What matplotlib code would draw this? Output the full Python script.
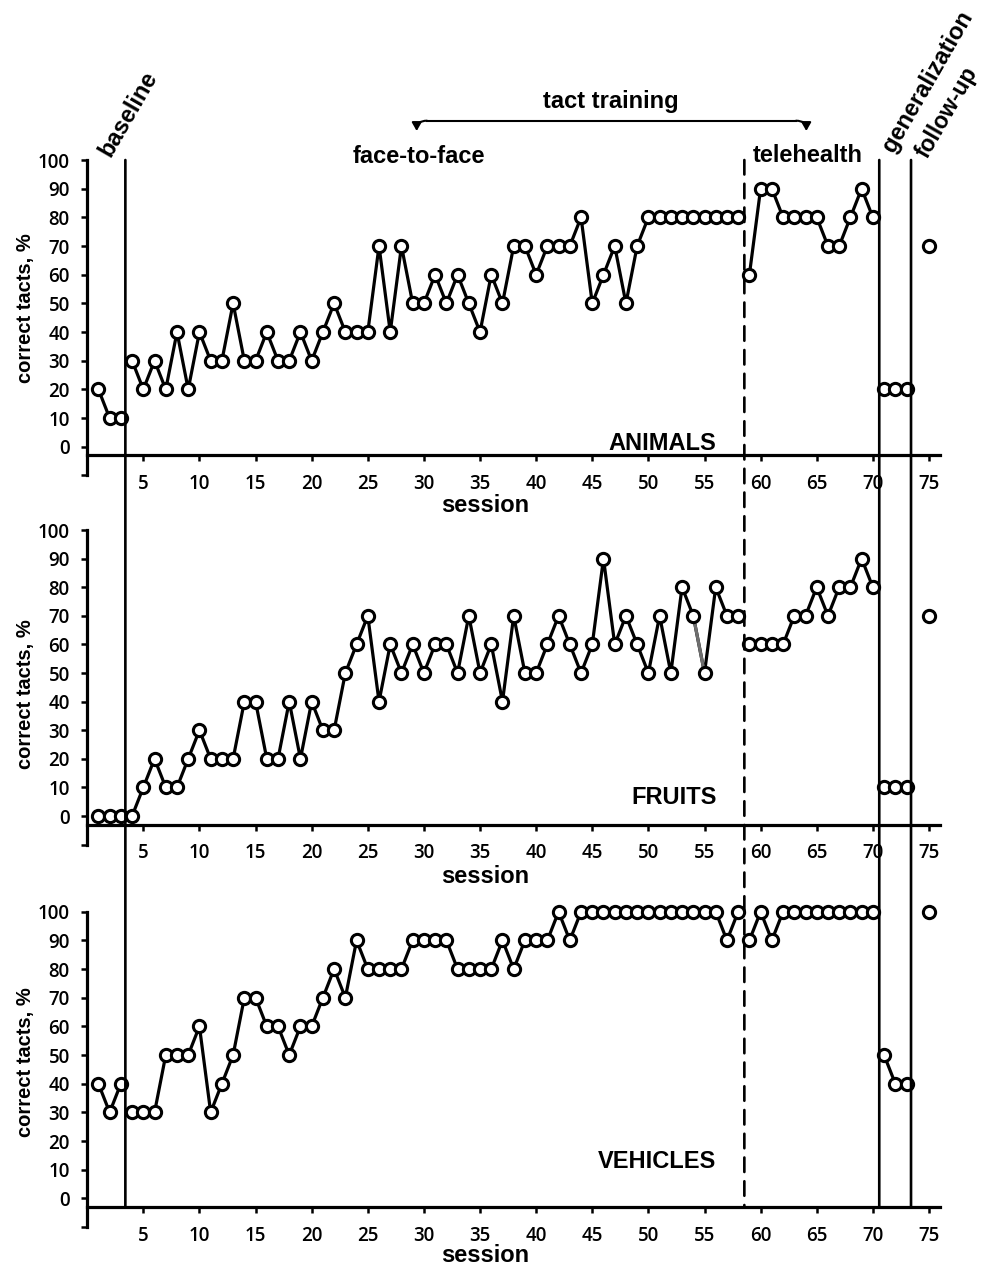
import numpy as np
import matplotlib
matplotlib.use("Agg")
import matplotlib.pyplot as plt
from matplotlib.patches import ConnectionPatch, FancyArrowPatch
from matplotlib.lines import Line2D

nan = np.nan

# ---------------- data ----------------
sessions = list(range(1, 76))

animals = [20, 10, 10,
           30, 20, 30, 20, 40, 20, 40, 30, 30, 50, 30, 30, 40, 30, 30, 40, 30,
           40, 50, 40, 40, 40, 70, 40, 70, 50, 50, 60, 50, 60, 50, 40, 60, 50,
           70, 70, 60, 70, 70, 70, 80, 50, 60, 70, 50, 70,
           80, 80, 80, 80, 80, 80, 80, 80, 80,
           60, 90, 90, 80, 80, 80, 80, 70, 70, 80, 90, 80,
           20, 20, 20,
           nan, 70]

fruits = [0, 0, 0,
          0, 10, 20, 10, 10, 20, 30, 20, 20, 20, 40, 40, 20, 20, 40, 20, 40,
          30, 30, 50, 60, 70, 40, 60, 50, 60, 50, 60, 60, 50, 70, 50, 60, 40,
          70, 50, 50, 60, 70, 60, 50, 60, 90, 60, 70, 60, 50, 70, 50, 80, 70,
          50, 80, 70, 70,
          60, 60, 60, 60, 70, 70, 80, 70, 80, 80, 90, 80,
          10, 10, 10,
          nan, 70]

vehicles = [40, 30, 40,
            30, 30, 30, 50, 50, 50, 60, 30, 40, 50, 70, 70, 60, 60, 50, 60, 60,
            70, 80, 70, 90, 80, 80, 80, 80, 90, 90, 90, 90, 80, 80, 80, 80, 90,
            80, 90, 90, 90, 100, 90,
            100, 100, 100, 100, 100, 100, 100, 100, 100, 100, 100, 100, 100,
            90, 100,
            90, 100, 90, 100, 100, 100, 100, 100, 100, 100, 100, 100,
            50, 40, 40,
            nan, 100]

panel_names = ["ANIMALS", "FRUITS", "VEHICLES"]
phase_bounds = [3.4, 58.55, 70.57, 73.4]       # baseline | f2f | telehealth | generalization | follow-up
phase_styles = ["-", "--", "-", "-"]
gray_segment = {"FRUITS": (54, 55)}           # one segment drawn in gray in the original
x_ticks = list(range(5, 76, 5))
y_ticks = list(range(-10, 101, 10))
y_tick_labels = [""] + [str(v) for v in range(0, 101, 10)]

# ---------------- layout ----------------
W, H = 985, 1269
plt.rcParams["font.family"] = ["Open Sans", "DejaVu Sans"]
BOLD = ["Liberation Sans", "DejaVu Sans"]

fig = plt.figure(figsize=(W / 100, H / 100), dpi=100)

def fx(x):
    return x / W

def fy(y):
    return 1 - y / H

ax_l, ax_r = 87.2, 940.2
panels_px = [(160.0, 475.4), (530.0, 844.6), (911.7, 1227.0)]   # pixel y of 100 and -10
ylabel_y = [0.531, 0.478, 0.523]
xlabel_y = [-0.094, -0.100, -0.089]
name_y = [-1.2, 4.2, 10.5]

axes = []
series_list = [animals, fruits, vehicles]
for i, (vals, name) in enumerate(zip(series_list, panel_names)):
    top, bot = panels_px[i]
    ax = fig.add_axes([fx(ax_l), fy(bot), (ax_r - ax_l) / W, (bot - top) / H])
    axes.append(ax)
    s = np.array(sessions, dtype=float)
    v = np.array(vals, dtype=float)
    edges = [0] + phase_bounds + [76]
    for lo, hi in zip(edges[:-1], edges[1:]):
        m = (s > lo) & (s < hi) & ~np.isnan(v)
        ax.plot(s[m], v[m], color="black", lw=2.3, zorder=2, clip_on=False,
                solid_joinstyle="miter")
    if name in gray_segment:
        a, b = gray_segment[name]
        m = (s >= a) & (s <= b)
        ax.plot(s[m], v[m], color="#6e6e6e", lw=2.3, zorder=2.5, clip_on=False)
    ax.plot(s, v, ls="none", marker="o", ms=8.8, mfc="white", mec="black",
            mew=2.2, zorder=3, clip_on=False)

    ax.set_xlim(0, 76)
    ax.set_ylim(-10, 100)
    ax.spines[["top", "right"]].set_visible(False)
    ax.spines["bottom"].set_position(("data", -3))
    ax.spines["left"].set_linewidth(2.3)
    ax.spines["bottom"].set_linewidth(2.3)
    ax.set_xticks(x_ticks)
    ax.set_yticks(y_ticks)
    ax.set_yticklabels(y_tick_labels)
    ax.tick_params(axis="both", direction="out", width=1.8, length=4.5,
                   labelsize=13.5)
    ax.tick_params(axis="x", pad=9)
    ax.tick_params(axis="y", pad=8)
    for lab in ax.get_xticklabels() + ax.get_yticklabels():
        lab.set_fontweight("semibold")

    ax.set_ylabel("correct tacts, %", fontsize=14.5, fontweight="bold",
                  family=BOLD)
    ax.yaxis.set_label_coords((26 - ax_l) / (ax_r - ax_l), ylabel_y[i])
    ax.yaxis.label.set_va("center")
    ax.set_xlabel("session", fontsize=17, fontweight="bold", family=BOLD)
    ax.xaxis.set_label_coords((485.5 - ax_l) / (ax_r - ax_l), xlabel_y[i])
    ax.xaxis.label.set_va("center")

    ax.text(56.07, name_y[i], name, ha="right", va="baseline", fontsize=17,
            fontweight="bold", family=BOLD)

# phase change lines spanning all panels
for xb, ls in zip(phase_bounds, phase_styles):
    kw = dict(color="black", lw=1.9, zorder=5)
    if ls == "--":
        kw["linestyle"] = (0, (5.5, 3.5))
    cp = ConnectionPatch(xyA=(xb, 100), coordsA=axes[0].transData,
                         xyB=(xb, -3), coordsB=axes[2].transData,
                         arrowstyle="-", shrinkA=0, shrinkB=0, **kw)
    fig.add_artist(cp)

# ---------------- header annotations ----------------
tkw = dict(fontsize=17, fontweight="bold", family=BOLD)
fig.text(fx(611), fy(108), "tact training", ha="center", va="baseline", **tkw)
fig.text(fx(419), fy(163), "face-to-face", ha="center", va="baseline", **tkw)
fig.text(fx(753), fy(162), "telehealth", ha="left", va="baseline", **tkw)

fig.text(fx(110), fy(158), "baseline", rotation=60, rotation_mode="anchor",
         ha="left", va="baseline", **tkw)
fig.text(fx(894), fy(154), "generalization", rotation=60, rotation_mode="anchor",
         ha="left", va="baseline", **tkw)
fig.text(fx(927), fy(160), "follow-up", rotation=60, rotation_mode="anchor",
         ha="left", va="baseline", fontsize=16.5, fontweight="bold", family=BOLD)

# bracket over the training phases
by = 120.7
fig.add_artist(Line2D([fx(427), fx(796)], [fy(by), fy(by)], color="black",
                      lw=1.5, transform=fig.transFigure))
for x0, x1 in [(427, 416.7), (796, 806.3)]:
    arr = FancyArrowPatch((fx(x0), fy(by)), (fx(x1), fy(131)),
                          transform=fig.transFigure,
                          connectionstyle="angle3,angleA=0,angleB=90",
                          arrowstyle="-|>,head_length=0.35,head_width=0.2",
                          mutation_scale=14, lw=1.5, color="black",
                          shrinkA=0, shrinkB=0)
    fig.add_artist(arr)

fig.savefig("out.png", dpi=100, facecolor="white")
